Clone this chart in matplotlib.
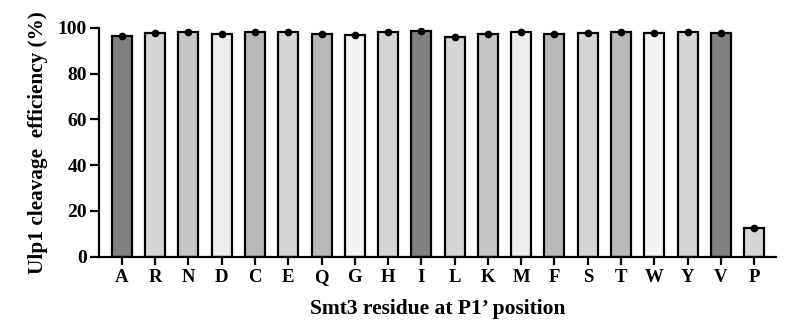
import matplotlib
matplotlib.use("Agg")
import matplotlib.pyplot as plt

residues = ["A", "R", "N", "D", "C", "E", "Q", "G", "H", "I",
            "L", "K", "M", "F", "S", "T", "W", "Y", "V", "P"]
efficiency = [96.6, 97.9, 98.4, 97.2, 98.1, 98.4, 97.2, 97.1, 98.1, 98.8,
              96.1, 97.4, 98.3, 97.4, 97.8, 98.3, 97.9, 98.1, 97.8, 12.4]
shades = ["#808080", "#d6d6d6", "#c6c6c6", "#ececec", "#b8b8b8",
          "#d6d6d6", "#b8b8b8", "#f4f4f4", "#d6d6d6", "#808080",
          "#d6d6d6", "#c6c6c6", "#ececec", "#b8b8b8", "#d6d6d6",
          "#b8b8b8", "#f4f4f4", "#d6d6d6", "#808080", "#d6d6d6"]

plt.rcParams["font.family"] = "Liberation Serif"
plt.rcParams["font.weight"] = "bold"

fig = plt.figure(figsize=(7.88, 3.21), dpi=100)
ax = fig.add_axes([0.1256, 0.2003, 0.8592, 0.7125])

x = list(range(len(residues)))
ax.bar(x, efficiency, width=0.6, color=shades, edgecolor="black", linewidth=1.6, zorder=2)
ax.plot(x, efficiency, "o", color="black", markersize=4.5, zorder=3)

ax.set_xlim(-0.69, len(residues) - 1 + 0.66)
ax.set_ylim(0, 100)
ax.set_yticks([0, 20, 40, 60, 80, 100])
ax.set_xticks(x)
ax.set_xticklabels(residues)

for s in ["top", "right"]:
    ax.spines[s].set_visible(False)
for s in ["left", "bottom"]:
    ax.spines[s].set_linewidth(1.6)
ax.tick_params(axis="y", width=1.6, length=6.5, labelsize=14, pad=2)
ax.tick_params(axis="x", width=1.6, length=6, labelsize=13.5, pad=3)

ax.set_ylabel("Ulp1 cleavage  efficiency (%)", fontsize=15.3, fontweight="bold", labelpad=7)
ax.set_xlabel("Smt3 residue at P1\u2019 position", fontsize=15.5, fontweight="bold", labelpad=9)

fig.savefig("out.png", dpi=100)
